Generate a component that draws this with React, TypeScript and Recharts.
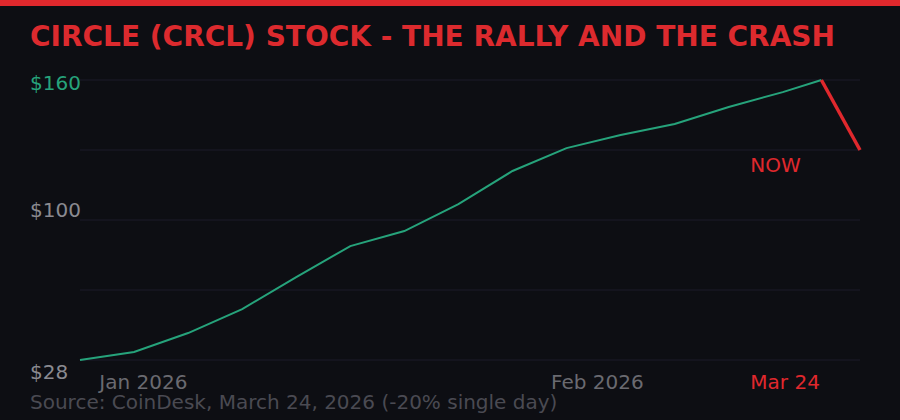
import { LineChart, Line, XAxis, YAxis, CartesianGrid, ReferenceDot } from 'recharts';

// days since first sample (weekly closes, then the peak and the crash day)
const days = [0, 7, 14, 21, 28, 35, 42, 49, 56, 63, 70, 77, 84, 91, 96, 101];
const rally = [28, 31.8, 40.7, 52, 67.1, 81.7, 88.8, 101.5, 117.1, 127.9, 134.1, 139.3, 147.3, 154.3, 160, null];
const crash = [null, null, null, null, null, null, null, null, null, null, null, null, null, null, 160, 127];

const yTicks = [28, 100, 160];
const gridValues = [28, 61, 94, 127, 160];
const xTickDays = [2.5, 61, 86.8];
const xTickLabels = ['Jan 2026', 'Feb 2026', 'Mar 24'];
const nowLabel = { day: 86.8, value: 116.6, text: 'NOW' };

const data = days.map((day, i) => ({ day, rally: rally[i], crash: crash[i] }));

const RED = '#e0282d';
const GREEN = '#26a37b';
const BG = '#0d0e13';
const FONT = '"DejaVu Sans", sans-serif';

const YTick = (props: any) => {
    const { y, payload } = props;
    const v = payload.value;
    const top = v === yTicks[yTicks.length - 1];
    const bottom = v === yTicks[0];
    return (
        <text x={30} y={y + (bottom ? 19 : 9.5)} fill={top ? GREEN : '#8a8a90'} fontSize={20} fontFamily={FONT} textAnchor="start">
            {`$${v}`}
        </text>
    );
};

const XTick = (props: any) => {
    const { x, index } = props;
    const last = index === xTickLabels.length - 1;
    return (
        <text x={x} y={389} fill={last ? RED : '#6a6a70'} fontSize={20} fontFamily={FONT} textAnchor="start">
            {xTickLabels[index]}
        </text>
    );
};

export default function App() {
    return (
        <div style={{ position: 'fixed', top: 0, left: 0, width: 900, height: 420, background: BG, overflow: 'hidden' }}>
            <div style={{ position: 'absolute', top: 0, left: 0, width: 900, height: 6, background: RED }} />
            <div
                style={{
                    position: 'absolute', top: 23, left: 30, fontFamily: FONT, fontWeight: 'bold',
                    fontSize: 28, lineHeight: '28px', color: '#dc2a2e', whiteSpace: 'nowrap',
                }}
            >
                CIRCLE (CRCL) STOCK - THE RALLY AND THE CRASH
            </div>
            <div
                style={{
                    position: 'absolute', top: 392, left: 30, fontFamily: FONT,
                    fontSize: 20, lineHeight: '20px', color: '#4a4a52', whiteSpace: 'nowrap',
                }}
            >
                Source: CoinDesk, March 24, 2026 (-20% single day)
            </div>
            <div style={{ position: 'absolute', top: 0, left: 0 }}>
                <LineChart width={900} height={420} data={data} margin={{ top: 80, right: 40, left: 30, bottom: 30 }}>
                    <CartesianGrid horizontal vertical={false} horizontalValues={gridValues} stroke="#1c1b2b" strokeWidth={1} />
                    <XAxis
                        dataKey="day"
                        type="number"
                        domain={[0, 101]}
                        ticks={xTickDays}
                        height={30}
                        axisLine={false}
                        tickLine={false}
                        tick={<XTick />}
                        interval={0}
                    />
                    <YAxis
                        domain={[28, 160]}
                        ticks={yTicks}
                        width={50}
                        axisLine={false}
                        tickLine={false}
                        tick={<YTick />}
                        interval={0}
                    />
                    <Line type="linear" dataKey="rally" stroke={GREEN} strokeWidth={2} dot={false} isAnimationActive={false} />
                    <Line type="linear" dataKey="crash" stroke={RED} strokeWidth={3.5} dot={false} isAnimationActive={false} />
                    <ReferenceDot
                        x={nowLabel.day}
                        y={nowLabel.value}
                        r={0}
                        fill="none"
                        stroke="none"
                        label={(p: any) => (
                            <text x={p.viewBox.x} y={p.viewBox.y} fill={RED} fontSize={20} fontFamily={FONT} textAnchor="start">
                                {nowLabel.text}
                            </text>
                        )}
                    />
                </LineChart>
            </div>
        </div>
    );
}
